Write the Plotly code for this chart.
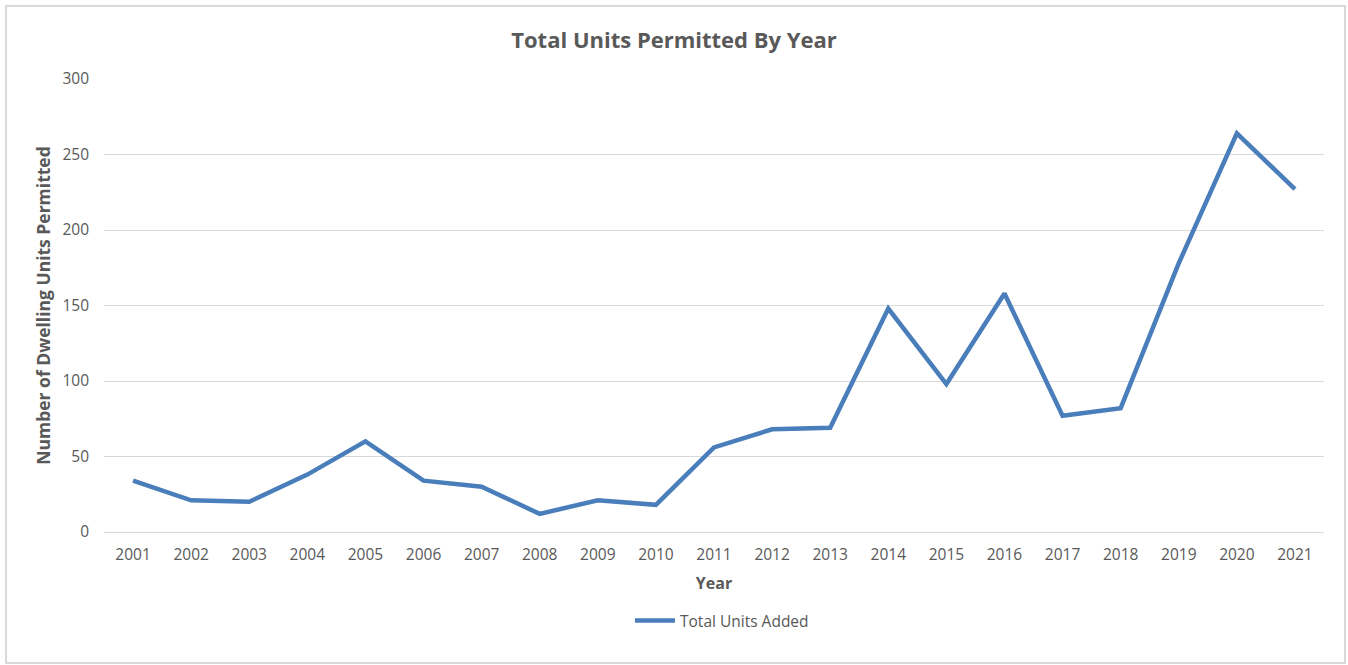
import plotly.graph_objects as go

years = [str(y) for y in range(2001, 2022)]
units_added = [34, 21, 20, 38, 60, 34, 30, 12, 21, 18, 56, 68, 69, 148, 98, 158, 77, 82, 178, 264, 227]
y_ticks = [0, 50, 100, 150, 200, 250, 300]

TEXT = "#595959"
GRID = "#D9D9D9"
LINE = "#4A7EBB"
FONT = "'Open Sans', Lato, sans-serif"

W, H = 1348, 665
ML, MR, MT, MB = 104, 24, 79, 133
pw, ph = W - ML - MR, H - MT - MB


def px_to_paper_x(px):
    return (px - ML) / pw


def px_to_paper_y(py):
    return (H - MB - py) / ph


fig = go.Figure()
fig.add_trace(go.Scatter(
    x=years, y=units_added, mode="lines", name="Total Units Added",
    line=dict(color=LINE, width=4.5),
))

fig.update_layout(
    width=W, height=H,
    margin=dict(l=ML, r=MR, t=MT, b=MB),
    paper_bgcolor="white", plot_bgcolor="white",
    font=dict(family=FONT, color=TEXT, size=15),
    title=dict(
        text="<b>Total Units Permitted By Year</b>",
        x=0.5, xanchor="center", y=1 - 40 / H, yanchor="middle",
        font=dict(size=22, color=TEXT, family=FONT),
    ),
    xaxis=dict(
        type="category", range=[-0.5, len(years) - 0.5],
        showgrid=False, showline=False, zeroline=False,
        ticks="", tickfont=dict(size=15.5, color=TEXT), ticklabelstandoff=11,
        title=dict(text="<b>Year</b>", font=dict(size=16, color=TEXT), standoff=14),
    ),
    yaxis=dict(
        range=[0, 300], tickvals=y_ticks,
        showgrid=True, gridcolor=GRID, gridwidth=1.3,
        zeroline=True, zerolinecolor=GRID, zerolinewidth=1.3,
        showline=False, ticks="", ticklabelstandoff=14,
        tickfont=dict(size=15.5, color=TEXT),
        title=dict(text="<b>Number of Dwelling Units Permitted</b>",
                   font=dict(size=17.5, color=TEXT), standoff=7),
    ),
    legend=dict(
        orientation="h", x=0.5 + 8 / pw, xanchor="center",
        y=px_to_paper_y(621), yanchor="middle",
        font=dict(size=15.5, color=TEXT), itemwidth=40,
    ),
    showlegend=True,
)

# light outer frame around the whole chart
fig.add_shape(
    type="rect", xref="paper", yref="paper",
    x0=px_to_paper_x(6), x1=px_to_paper_x(1345),
    y0=px_to_paper_y(663), y1=px_to_paper_y(6),
    line=dict(color=GRID, width=2), fillcolor="rgba(0,0,0,0)", layer="below",
)

fig.write_html("out.html")
